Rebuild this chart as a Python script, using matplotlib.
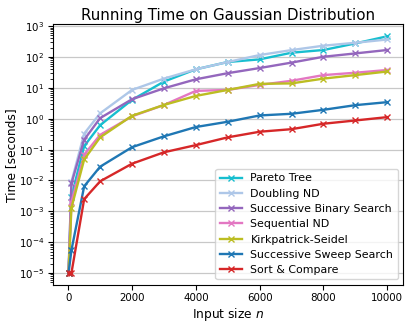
import matplotlib
matplotlib.use("Agg")
import matplotlib.pyplot as plt

n_values = [10, 100, 500, 1000, 2000, 3000, 4000, 5000, 6000, 7000, 8000, 9000, 10000]

pareto_tree = [1e-5, 3e-3, 0.13, 0.62, 4.1, 16, 40, 69, 84, 138, 169, 276, 470]
doubling_nd = [1e-5, 9e-3, 0.33, 1.5, 8.6, 20, 40, 69, 116, 168, 233, 290, 370]
successive_binary = [1e-5, 8e-3, 0.21, 1.05, 4.3, 9.7, 19, 30, 44, 66, 102, 131, 169]
sequential_nd = [1e-5, 2e-3, 0.069, 0.30, 1.2, 2.8, 8.0, 8.6, 12.5, 17, 26, 31, 38]
kirkpatrick_seidel = [1e-5, 1.3e-3, 0.048, 0.25, 1.25, 2.8, 5.5, 8.6, 13.5, 14, 20, 26, 34]
successive_sweep = [1e-5, 5.5e-5, 6.5e-3, 0.028, 0.12, 0.27, 0.54, 0.80, 1.28, 1.45, 1.95, 2.76, 3.45]
sort_compare = [1e-5, 1e-5, 2.5e-3, 9.4e-3, 0.035, 0.082, 0.14, 0.25, 0.38, 0.46, 0.69, 0.88, 1.13]

series = [
    ("Pareto Tree", pareto_tree, "#17becf"),
    ("Doubling ND", doubling_nd, "#aec7e8"),
    ("Successive Binary Search", successive_binary, "#9467bd"),
    ("Sequential ND", sequential_nd, "#e377c2"),
    ("Kirkpatrick-Seidel", kirkpatrick_seidel, "#bcbd22"),
    ("Successive Sweep Search", successive_sweep, "#1f77b4"),
    ("Sort & Compare", sort_compare, "#d62728"),
]

plt.rcParams["font.family"] = "DejaVu Sans"
plt.rcParams["font.size"] = 8

fig = plt.figure(figsize=(4.11, 3.26), dpi=100)
ax = fig.add_axes([0.128, 0.126, 0.853, 0.799])

for label, vals, color in series:
    ax.plot(n_values, vals, marker="x", color=color, label=label,
            linewidth=1.7, markersize=5)

ax.set_yscale("log")
ax.grid(axis="y", which="major", color="#c8c8c8", linewidth=0.9)
ax.set_axisbelow(True)
ax.tick_params(labelsize=7.4, pad=2.5)
ax.set_title("Running Time on Gaussian Distribution", fontsize=10.8, pad=3)
ax.set_xlabel("Input size $n$", fontsize=8.8, labelpad=2)
ax.set_ylabel("Time [seconds]", fontsize=8.8, labelpad=1)
ax.set_xticks([0, 2000, 4000, 6000, 8000, 10000])
ax.legend(loc="lower right", fontsize=7.9, framealpha=0.8,
          borderpad=0.4, labelspacing=0.48, handlelength=2.0)

fig.savefig("out.png", dpi=100)
